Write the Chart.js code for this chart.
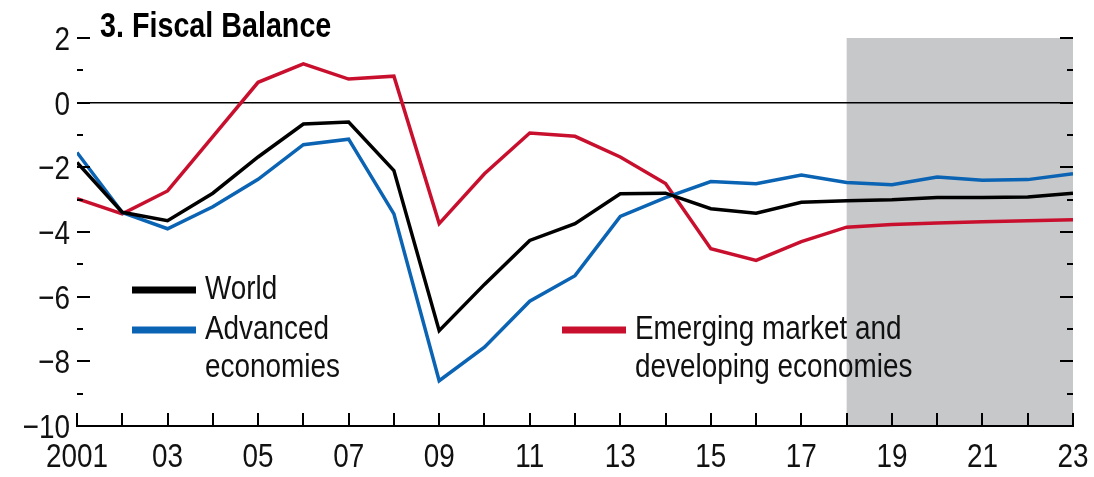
<!DOCTYPE html>
<html>
<head>
<meta charset="utf-8">
<script src="https://cdn.jsdelivr.net/npm/chart.js@4/dist/chart.umd.min.js"></script>
<style>
  html, body { margin: 0; padding: 0; background: #fff; }
  #wrap { width: 1094px; height: 477px; position: relative; }
</style>
</head>
<body>
<div id="wrap"><canvas id="c"></canvas></div>
<script>
const years = [2001, 2002, 2003, 2004, 2005, 2006, 2007, 2008, 2009, 2010, 2011, 2012,
  2013, 2014, 2015, 2016, 2017, 2018, 2019, 2020, 2021, 2022, 2023];

const world = [-1.85, -3.39, -3.65, -2.8, -1.68, -0.66, -0.6, -2.1, -7.05, -5.62, -4.26, -3.74,
  -2.82, -2.8, -3.28, -3.42, -3.08, -3.03, -3.0, -2.93, -2.93, -2.92, -2.8];
const advanced = [-1.54, -3.4, -3.9, -3.22, -2.37, -1.3, -1.13, -3.44, -8.6, -7.56, -6.14, -5.35,
  -3.52, -2.94, -2.44, -2.51, -2.24, -2.47, -2.54, -2.3, -2.4, -2.38, -2.2];
const emerging = [-2.97, -3.44, -2.73, -1.05, 0.63, 1.2, 0.73, 0.82, -3.74, -2.2, -0.94, -1.04,
  -1.68, -2.5, -4.52, -4.88, -4.3, -3.85, -3.77, -3.72, -3.68, -3.65, -3.62];

const projectionStart = 2018;
const xTickYears = [2001, 2003, 2005, 2007, 2009, 2011, 2013, 2015, 2017, 2019, 2021, 2023];
const xTickLabels = ["2001", "03", "05", "07", "09", "11", "13", "15", "17", "19", "21", "23"];
const yTickValues = [2, 0, -2, -4, -6, -8, -10];
const yTickLabels = ["2", "0", "\u22122", "\u22124", "\u22126", "\u22128", "\u221210"];

const FONT = '"Liberation Sans", Arial, sans-serif';
const NARROW = 0.82;

function toPoints(values) {
  return years.map((y, i) => ({ x: y, y: values[i] }));
}

// condensed look: squeeze Liberation Sans horizontally
function narrowText(ctx, text, x, y, align) {
  ctx.save();
  ctx.translate(x, y);
  ctx.scale(NARROW, 1);
  ctx.textAlign = align || "left";
  ctx.fillText(text, 0, 0);
  ctx.restore();
}

// grey box for the projection years, under everything
const shadePlugin = {
  id: "shade",
  beforeDraw(chart) {
    const { ctx, chartArea, scales } = chart;
    const x0 = scales.x.getPixelForValue(projectionStart);
    ctx.save();
    ctx.fillStyle = "#c7c8ca";
    ctx.fillRect(x0, chartArea.top, chartArea.right - x0, chartArea.bottom - chartArea.top);
    ctx.restore();
  }
};

// inward tick marks on left, right and bottom + tick labels
const tickPlugin = {
  id: "ticks",
  afterDatasetsDraw(chart) {
    const { ctx, chartArea, scales } = chart;
    ctx.save();
    ctx.strokeStyle = "#000";
    ctx.lineWidth = 2;
    ctx.beginPath();
    for (let v = -10; v <= 2; v++) {
      const y = Math.round(scales.y.getPixelForValue(v));
      const len = v % 2 === 0 ? 13 : 6;
      ctx.moveTo(chartArea.left, y);
      ctx.lineTo(chartArea.left + len, y);
      ctx.moveTo(chartArea.right, y);
      ctx.lineTo(chartArea.right - len, y);
    }
    years.forEach((yr) => {
      const x = Math.round(scales.x.getPixelForValue(yr));
      ctx.moveTo(x, chartArea.bottom);
      ctx.lineTo(x, chartArea.bottom - 13);
    });
    ctx.stroke();

    ctx.fillStyle = "#111";
    ctx.font = "34px " + FONT;
    ctx.textBaseline = "alphabetic";
    xTickYears.forEach((yr, i) => {
      narrowText(ctx, xTickLabels[i], scales.x.getPixelForValue(yr), chartArea.bottom + 41, "center");
    });
    yTickValues.forEach((v, i) => {
      narrowText(ctx, yTickLabels[i], chartArea.left - 7, scales.y.getPixelForValue(v) + 12, "right");
    });
    ctx.restore();
  }
};

const legendItems = [
  { ds: 0, x: 132, y: 290, lines: ["World"] },
  { ds: 1, x: 132, y: 330, lines: ["Advanced", "economies"] },
  { ds: 2, x: 562, y: 330, lines: ["Emerging market and", "developing economies"] }
];

const annotatePlugin = {
  id: "annotate",
  afterDraw(chart) {
    const { ctx } = chart;
    ctx.save();
    ctx.fillStyle = "#000";
    ctx.textBaseline = "alphabetic";
    ctx.font = "bold 35px " + FONT;
    narrowText(ctx, "3. Fiscal Balance", 100, 37);

    ctx.font = "34px " + FONT;
    legendItems.forEach((it) => {
      const ds = chart.data.datasets[it.ds];
      ctx.strokeStyle = ds.borderColor;
      ctx.lineWidth = 7;
      ctx.beginPath();
      ctx.moveTo(it.x, it.y);
      ctx.lineTo(it.x + 64, it.y);
      ctx.stroke();
      ctx.fillStyle = "#111";
      it.lines.forEach((t, i) => {
        narrowText(ctx, t, it.x + 73, it.y + 9 + i * 38);
      });
    });
    ctx.restore();
  }
};

new Chart(document.getElementById("c"), {
  type: "line",
  data: {
    datasets: [
      { label: "World", data: toPoints(world), borderColor: "#000000" },
      { label: "Advanced economies", data: toPoints(advanced), borderColor: "#0b63b3" },
      { label: "Emerging market and developing economies", data: toPoints(emerging), borderColor: "#c8102e" }
    ]
  },
  options: {
    responsive: true,
    maintainAspectRatio: false,
    animation: false,
    layout: { padding: { top: 38, right: 21, left: 0, bottom: 0 } },
    elements: {
      line: { borderWidth: 3.5, tension: 0 },
      point: { radius: 0 }
    },
    plugins: {
      legend: { display: false },
      title: { display: false },
      tooltip: { enabled: false }
    },
    scales: {
      x: {
        type: "linear",
        min: 2001,
        max: 2023,
        afterFit(scale) { scale.height = 51; },
        grid: { display: true, drawOnChartArea: false, drawTicks: false },
        border: { display: true, color: "#000", width: 2 },
        ticks: { display: false, stepSize: 1 }
      },
      y: {
        min: -10,
        max: 2,
        afterFit(scale) { scale.width = 77; },
        grid: {
          drawTicks: false,
          color: (c) => (c.tick && c.tick.value === 0 ? "#000" : "rgba(0,0,0,0)"),
          lineWidth: 1.5
        },
        border: { display: false },
        ticks: { display: false, stepSize: 1 }
      }
    }
  },
  plugins: [shadePlugin, tickPlugin, annotatePlugin]
});
</script>
</body>
</html>
